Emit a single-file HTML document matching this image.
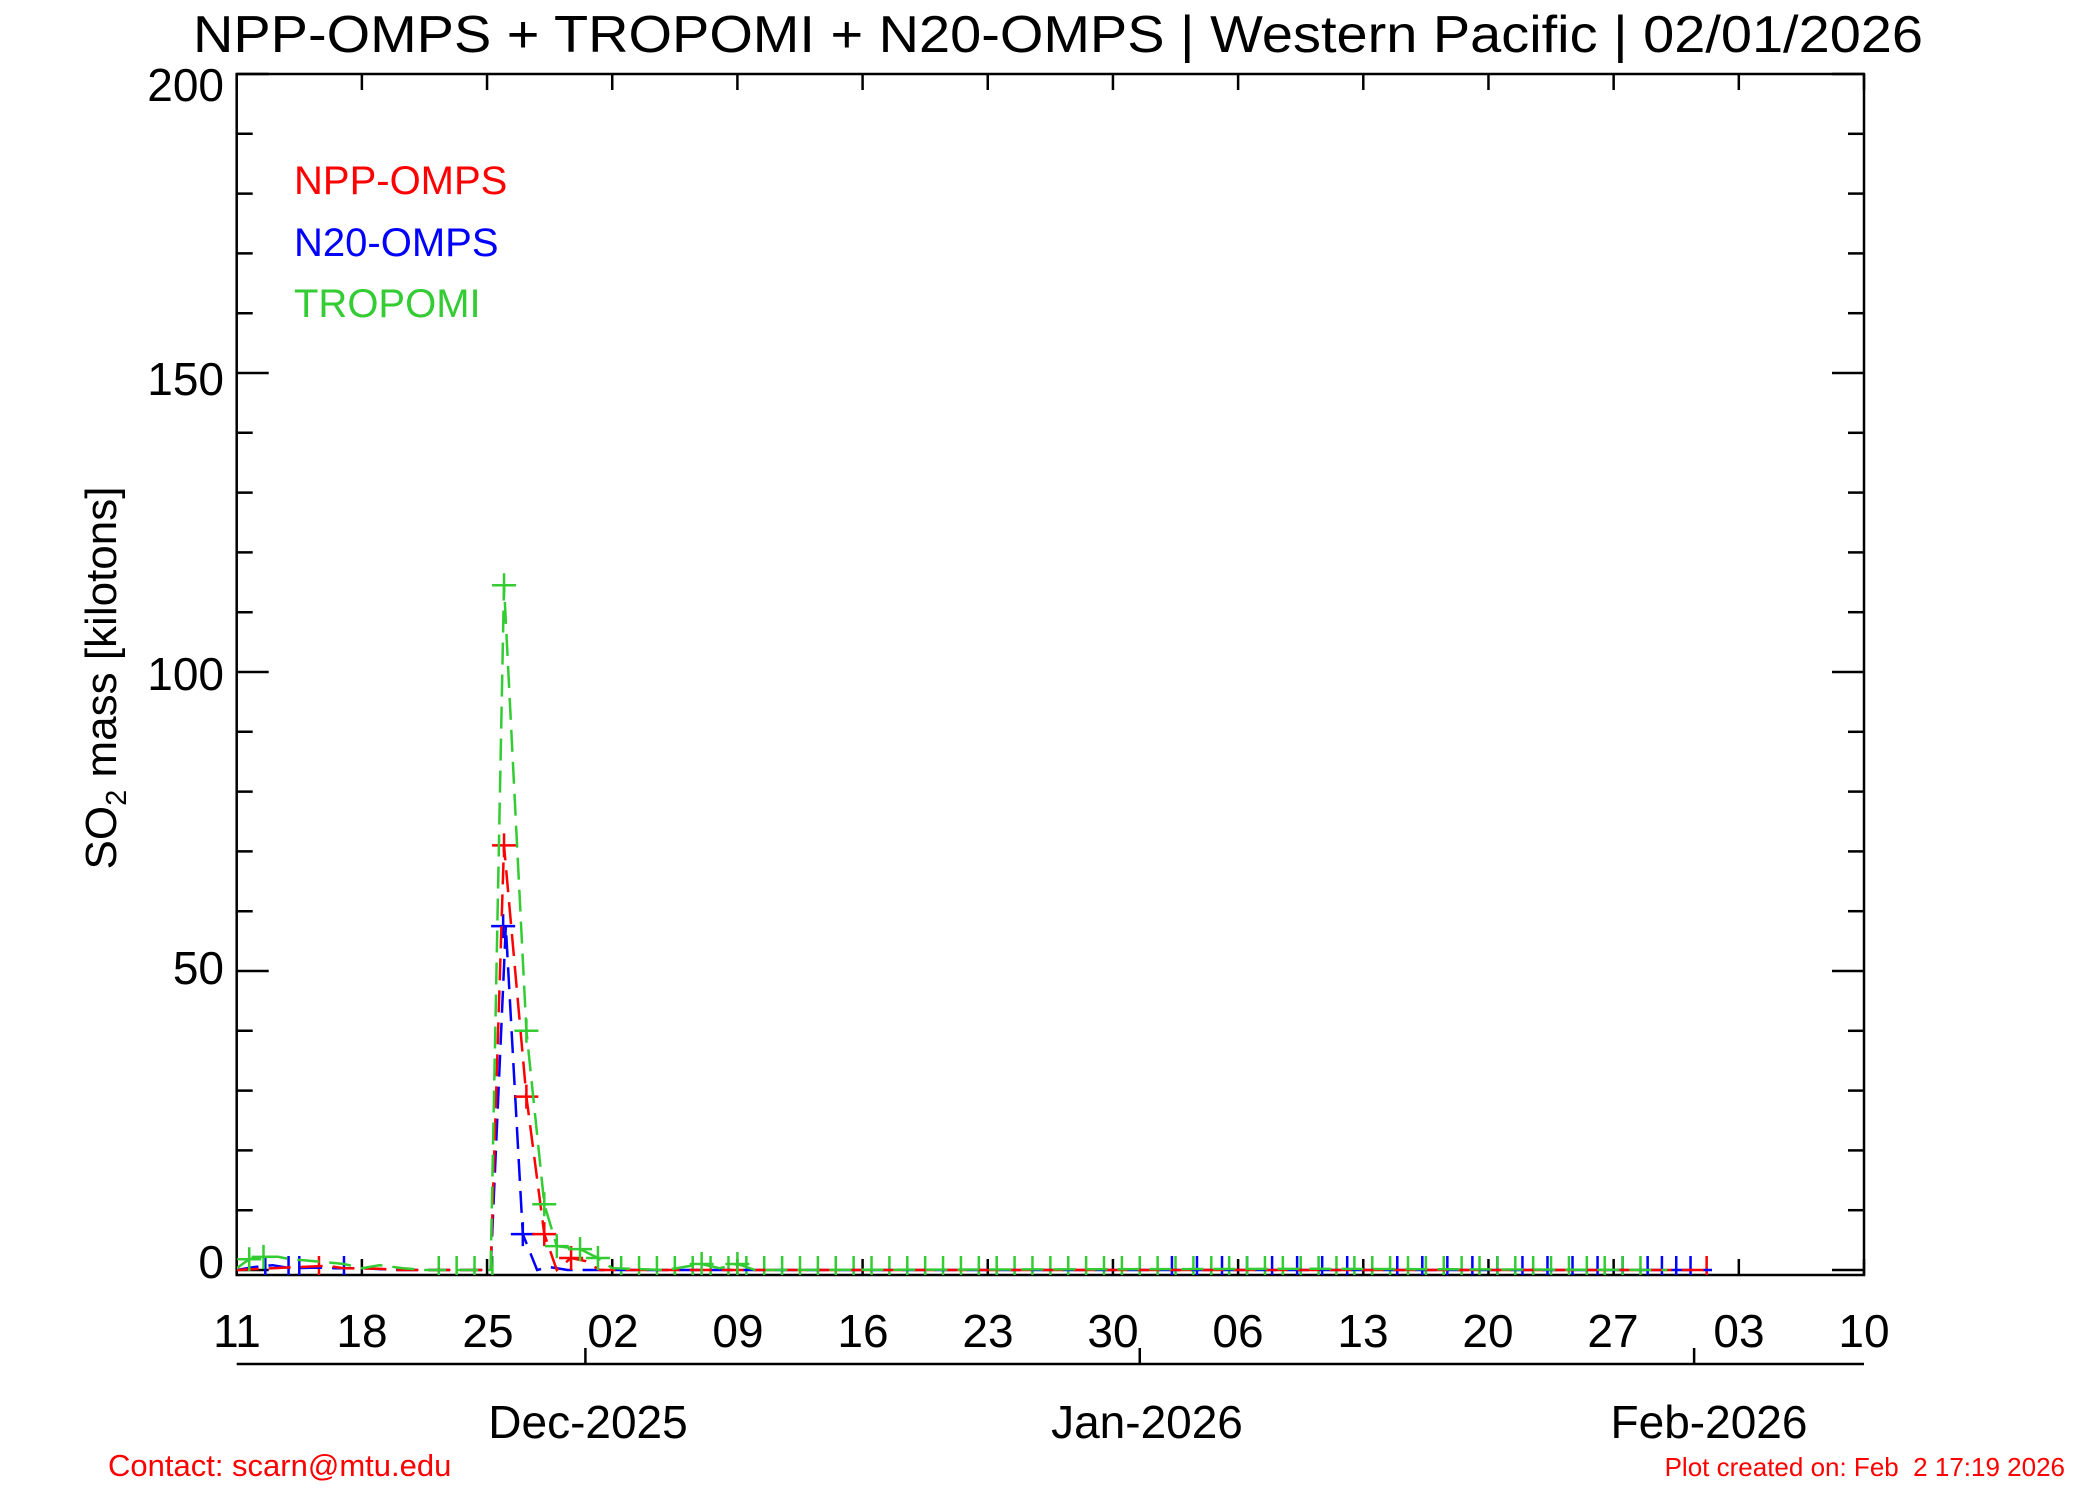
<!DOCTYPE html>
<html><head><meta charset="utf-8"><style>
html,body{margin:0;padding:0;background:#fff;}
svg{display:block;font-family:"Liberation Sans",Arial,sans-serif;}
</style></head><body>
<svg id="s" width="2100" height="1500" viewBox="0 0 2100 1500" xmlns="http://www.w3.org/2000/svg">
<defs><clipPath id="pc"><rect x="237" y="74" width="1627" height="1201"/></clipPath></defs>
<text x="1058" y="52" font-size="52" text-anchor="middle" textLength="1730" lengthAdjust="spacingAndGlyphs">NPP-OMPS + TROPOMI + N20-OMPS | Western Pacific | 02/01/2026</text>
<g id="axes" stroke="#000" stroke-width="2.5" fill="none"></g>
<g id="data" clip-path="url(#pc)" fill="none" stroke-width="2.5"></g>
<g font-size="46" text-anchor="end" id="ylab">
<text x="224" y="101">200</text>
<text x="224" y="395">150</text>
<text x="224" y="690">100</text>
<text x="224" y="984">50</text>
<text x="224" y="1278">0</text>
</g>
<g font-size="46" text-anchor="middle">
<text x="237" y="1347">11</text><text x="362" y="1347">18</text><text x="488" y="1347">25</text>
<text x="613" y="1347">02</text><text x="738" y="1347">09</text><text x="863" y="1347">16</text>
<text x="988" y="1347">23</text><text x="1113" y="1347">30</text><text x="1238" y="1347">06</text>
<text x="1363" y="1347">13</text><text x="1488" y="1347">20</text><text x="1613" y="1347">27</text>
<text x="1739" y="1347">03</text><text x="1864" y="1347">10</text>
<text x="588" y="1438">Dec-2025</text><text x="1147" y="1438">Jan-2026</text><text x="1709" y="1438">Feb-2026</text>
</g>
<text transform="translate(116,678) rotate(-90)" font-size="44" text-anchor="middle">SO<tspan font-size="29" dy="10">2</tspan><tspan dy="-10"> mass [kilotons]</tspan></text>
<g font-size="40">
<text x="294" y="194" fill="#ff0000">NPP-OMPS</text>
<text x="294" y="256" fill="#0000ff">N20-OMPS</text>
<text x="294" y="317" fill="#33cc33">TROPOMI</text>
</g>
<text x="108" y="1476" font-size="31" fill="#ff0000">Contact: scarn@mtu.edu</text>
<text x="2065" y="1476" font-size="26" fill="#ff0000" text-anchor="end" xml:space="preserve">Plot created on: Feb  2 17:19 2026</text>
</svg>
<script>
(function(){
var NS="http://www.w3.org/2000/svg";
var L=236.7,R=1864,T=74,B=1275,PD=(R-L)/91;
function X(d){return L+PD*d;} function Y(v){return 1270-5.98*v;}
function el(g,n,a){var e=document.createElementNS(NS,n);for(var k in a)e.setAttribute(k,a[k]);g.appendChild(e);return e;}
var ax=document.getElementById("axes");
el(ax,"rect",{x:L,y:T,width:R-L,height:B-T});
for(var v=0;v<=200;v+=10){var y=1270-5.98*v;if(v==200)y=T;var len=(v%50==0)?32:16;
 el(ax,"line",{x1:L,y1:y,x2:L+len,y2:y});el(ax,"line",{x1:R,y1:y,x2:R-len,y2:y});}
for(var d=0;d<=91;d+=7){var x=X(d);el(ax,"line",{x1:x,y1:B,x2:x,y2:B-16});el(ax,"line",{x1:x,y1:T,x2:x,y2:T+16});}
el(ax,"line",{x1:L,y1:1364,x2:R,y2:1364});
[19.5,50.5,81.5].forEach(function(d){el(ax,"line",{x1:X(d),y1:1364,x2:X(d),y2:1348});});
var dg=document.getElementById("data");
function series(pts,col){var s="";pts.forEach(function(p){s+=X(p[0]).toFixed(1)+","+Y(p[1]).toFixed(1)+" ";});
 el(dg,"polyline",{points:s,stroke:col,"stroke-dasharray":"22 10"});}
function plus(d,col){var x=X(d),y=Y(0);el(dg,"line",{x1:x,y1:y-14,x2:x,y2:y+14,stroke:col});}
for(var d=52;d<=79;d+=1.4)plus(d+0.3,"#0000ff");
for(var d=11;d<=14;d++)plus(d+0.3,"#33cc33");
for(var d=21;d<=78;d++)plus(d+0.5,"#33cc33");
plus(79.7,"#0000ff");plus(80.5,"#0000ff");plus(81.3,"#0000ff");plus(82.2,"#ff0000");
plus(1.6,"#0000ff");plus(2.9,"#0000ff");plus(3.5,"#0000ff");plus(4.6,"#ff0000");plus(6,"#0000ff");
series([[0,0],[1,0.5],[2,0.8],[3,0.3],[4.5,0.4],[5.5,0.3],[7,0.3],[9,0],[14.2,0],[15.05,57.5],[16.0,6],[16.8,0],[17.5,0.5],[18.5,0],[30,0],[60,0],[82.5,0]],"#0000ff");
el(dg,"path",{d:"M"+(X(14.9)-12)+" "+Y(57.5)+"h24M"+X(14.9)+" "+(Y(57.5)-12)+"v24M"+(X(16)-12)+" "+Y(6)+"h24M"+X(16)+" "+(Y(6)-12)+"v24",stroke:"#0000ff"});
series([[0,0],[2,0.3],[3.5,0.5],[5,0.7],[6,0.3],[8,0.2],[9,0],[14.2,0],[14.95,71],[16.2,29],[17.2,6],[17.9,0],[18.7,2],[19.5,1.5],[20.3,0],[40,0],[82.3,0]],"#ff0000");
el(dg,"path",{d:"M"+(X(14.95)-12)+" "+Y(71)+"h24M"+X(14.95)+" "+(Y(71)-12)+"v24M"+(X(16.2)-12)+" "+Y(29)+"h24M"+X(16.2)+" "+(Y(29)-12)+"v24M"+(X(17.2)-12)+" "+Y(6)+"h24M"+X(17.2)+" "+(Y(6)-12)+"v24M"+(X(18.7)-12)+" "+Y(2)+"h24M"+X(18.7)+" "+(Y(2)-12)+"v24",stroke:"#ff0000"});
series([[0,0.3],[0.7,1.8],[1.5,2.2],[2.3,2.2],[3,1.8],[5,1.3],[6,1],[7,0.3],[8,0.8],[9.3,0.3],[10.5,0],[14.2,0],[14.95,114.5],[16.2,40],[17.2,11],[17.9,4],[19.2,3.5],[20.2,2],[21,0.3],[24,0],[26,1],[27,0.3],[28,1],[29,0],[60,0.2],[80,0]],"#33cc33");
[[0.7,1.8],[1.5,2.2],[14.95,114.5],[16.2,40],[17.2,11],[17.9,4],[19.2,3.5],[20.2,2],[26,1],[28,1]].forEach(function(p){var x=X(p[0]),y=Y(p[1]);el(dg,"path",{d:"M"+(x-12)+" "+y+"h24M"+x+" "+(y-12)+"v24",stroke:"#33cc33"});});
})();
</script>
</body></html>
